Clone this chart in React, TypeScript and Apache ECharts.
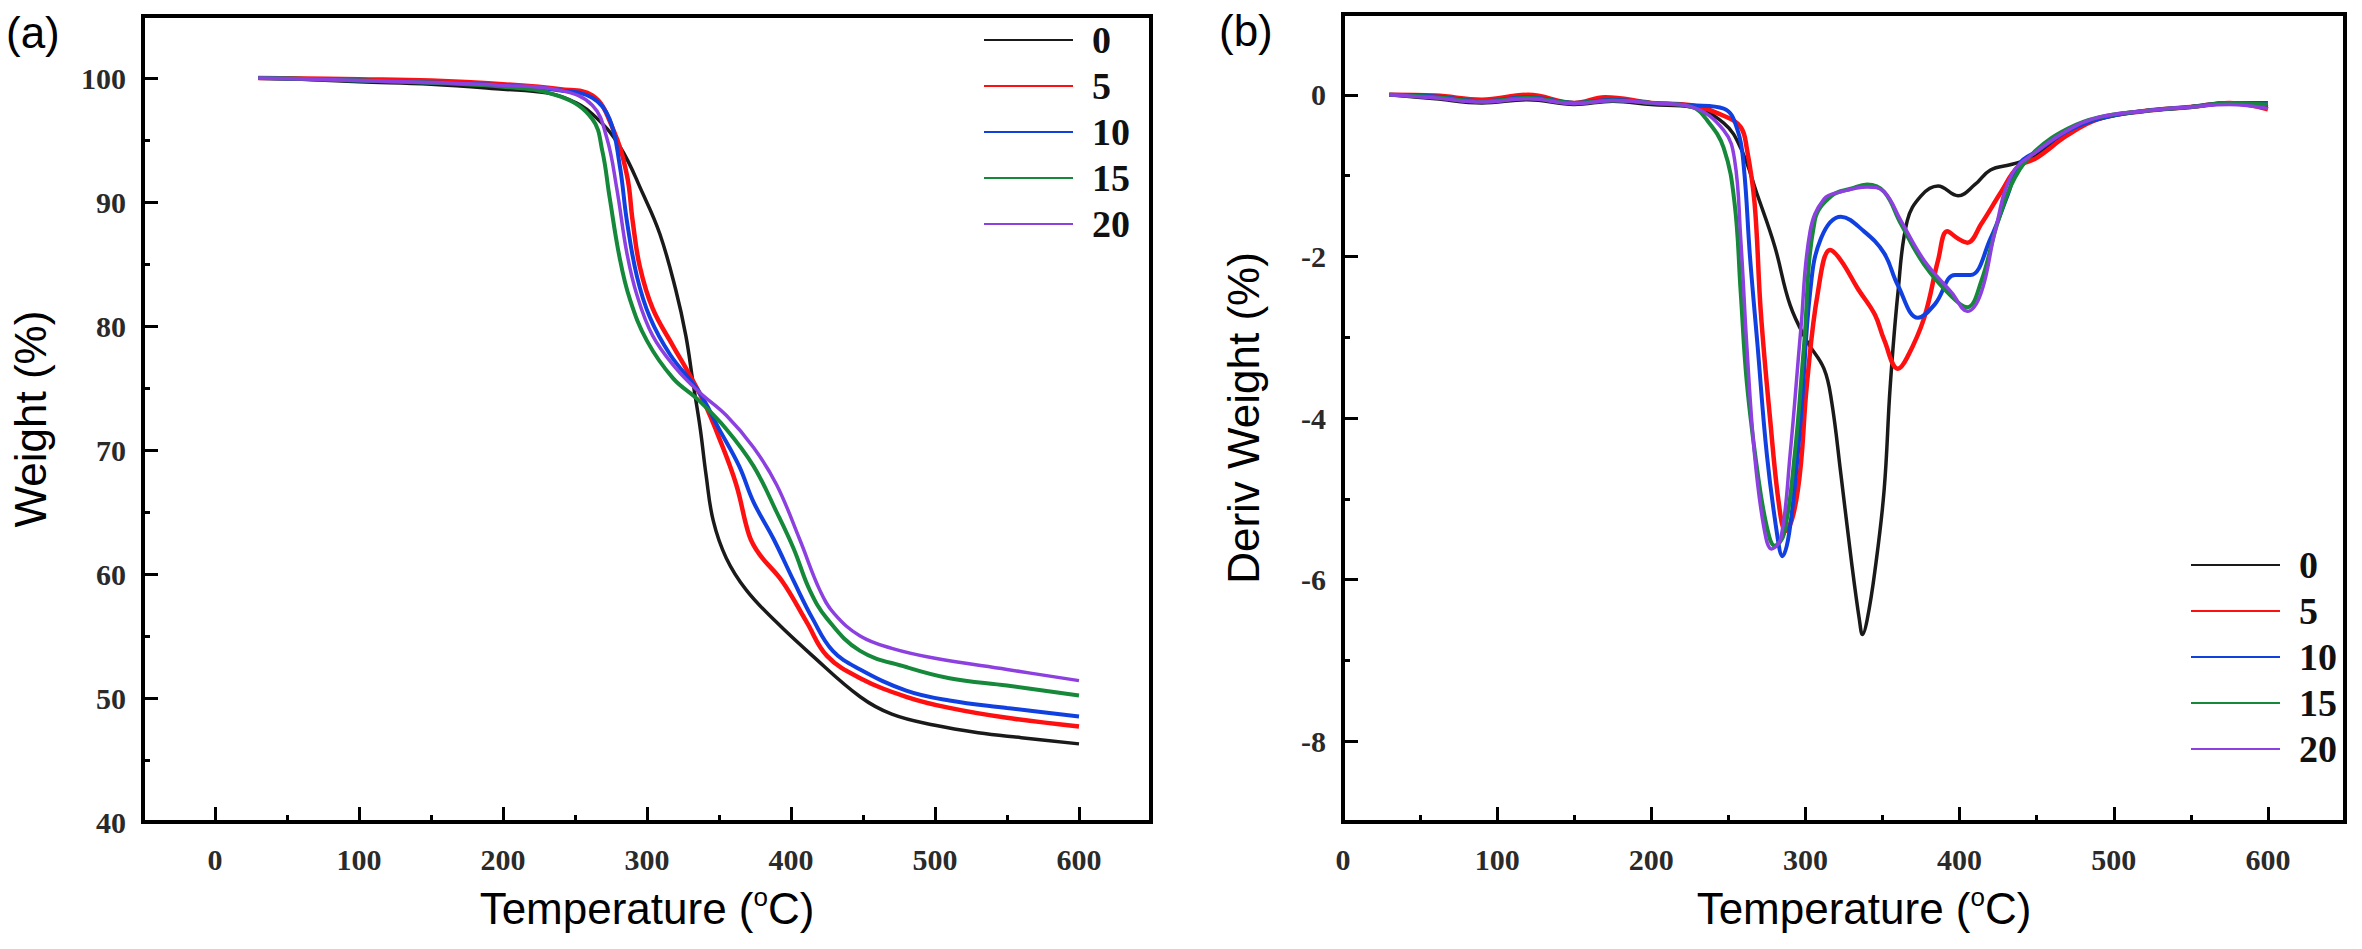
import React, { useEffect, useRef } from 'react';
import * as echarts from 'echarts';

// series names (filler content, %)
const names = ['0', '5', '10', '15', '20'];
const colors = ['#1a1a1a', '#ff1010', '#1040e0', '#15883a', '#8c40e0'];
const widths = [3.5, 4.5, 4, 4, 3.5];

// (a) TGA: [temperature, weight %]
const tga0: number[][] = [[30, 100], [60, 99.9], [100, 99.7], [150, 99.5], [200, 99.1], [230, 98.8], [245, 98.3], [262, 97.1], [281, 94.5], [297, 90.7], [309, 87.4], [320, 82.9], [327, 79.2], [332, 75.4], [337, 71.7], [341, 68], [346, 64.3], [355, 61.3], [369, 58.7], [390, 56.1], [414, 53.5], [448, 50.1], [470, 48.7], [500, 47.8], [530, 47.2], [560, 46.8], [600, 46.3]];
const tga5: number[][] = [[30, 100], [100, 99.9], [150, 99.8], [200, 99.5], [240, 99.1], [262, 98.6], [276, 96], [286, 92.2], [290, 88.5], [295, 84.8], [304, 81.4], [318, 78.4], [327, 76.6], [339, 74], [350, 71], [362, 67.2], [371, 63.1], [378, 61.6], [394, 59.4], [411, 56.1], [425, 53.4], [448, 51.6], [480, 50.1], [510, 49.2], [550, 48.4], [600, 47.7]];
const tga10: number[][] = [[30, 100], [100, 99.8], [200, 99.4], [240, 99], [262, 98.4], [274, 96.7], [281, 93], [286, 88.5], [293, 84], [302, 80.7], [316, 77.7], [336, 74.7], [350, 71.7], [364, 68.7], [374, 65.8], [388, 62.8], [402, 59.4], [415, 56.4], [429, 53.8], [448, 52.3], [480, 50.6], [510, 49.8], [550, 49.2], [600, 48.5]];
const tga15: number[][] = [[30, 100], [100, 99.8], [200, 99.3], [240, 98.5], [262, 96.7], [269, 94.1], [274, 90.4], [281, 85.5], [288, 82.2], [300, 78.8], [318, 75.8], [336, 74], [355, 71.7], [374, 68.7], [390, 65], [402, 62], [413, 58.7], [425, 56.4], [448, 53.8], [480, 52.5], [510, 51.6], [550, 51], [600, 50.2]];
const tga20: number[][] = [[30, 100], [100, 99.8], [200, 99.4], [240, 99], [262, 97.8], [272, 95.2], [279, 91.1], [286, 85.9], [293, 82.5], [304, 79.2], [320, 76.6], [336, 74.7], [355, 72.8], [374, 70.2], [390, 67.2], [406, 62.8], [420, 58.7], [430, 56.8], [448, 55], [470, 54], [500, 53.2], [550, 52.3], [600, 51.4]];

// (b) DTG: [temperature, deriv weight %]
const dtg0: number[][] = [[30, 0], [60, -0.05], [90, -0.1], [120, -0.06], [150, -0.12], [175, -0.08], [200, -0.12], [226, -0.15], [247, -0.35], [258, -0.66], [269, -1.25], [280, -1.87], [290, -2.6], [301, -3.05], [312, -3.39], [317, -3.8], [323, -4.7], [330, -5.8], [335, -6.5], [337, -6.68], [340, -6.5], [345, -5.9], [351, -4.9], [355, -3.6], [360, -2.45], [366, -1.56], [375, -1.25], [386, -1.13], [399, -1.25], [410, -1.11], [420, -0.93], [434, -0.86], [450, -0.75], [470, -0.45], [490, -0.3], [520, -0.2], [550, -0.15], [575, -0.1], [600, -0.15]];
const dtg5: number[][] = [[30, 0], [60, -0.01], [90, -0.06], [120, 0], [150, -0.1], [170, -0.03], [200, -0.1], [226, -0.13], [247, -0.26], [258, -0.4], [262, -0.67], [267, -1.34], [271, -2.68], [277, -4.0], [283, -5.1], [287, -5.4], [295, -4.9], [301, -3.57], [308, -2.45], [316, -1.92], [323, -2.05], [334, -2.4], [345, -2.72], [351, -3.03], [360, -3.39], [366, -3.25], [377, -2.76], [386, -2.05], [392, -1.69], [399, -1.78], [405, -1.83], [414, -1.6], [427, -1.2], [438, -0.89], [450, -0.78], [470, -0.5], [490, -0.3], [520, -0.2], [550, -0.15], [575, -0.1], [600, -0.18]];
const dtg10: number[][] = [[30, 0], [60, -0.02], [90, -0.08], [120, -0.03], [150, -0.1], [175, -0.06], [200, -0.1], [226, -0.13], [247, -0.17], [256, -0.44], [260, -0.89], [264, -2.0], [269, -3.12], [275, -4.46], [282, -5.49], [285, -5.71], [290, -5.35], [297, -4.0], [303, -2.45], [310, -1.78], [323, -1.51], [338, -1.69], [351, -1.96], [360, -2.36], [373, -2.76], [384, -2.59], [397, -2.23], [407, -2.23], [420, -1.78], [431, -1.25], [439, -0.85], [450, -0.7], [470, -0.45], [490, -0.3], [520, -0.2], [550, -0.15], [575, -0.1], [600, -0.1]];
const dtg15: number[][] = [[30, 0], [60, -0.03], [90, -0.08], [120, -0.04], [150, -0.1], [175, -0.07], [200, -0.1], [226, -0.15], [236, -0.31], [247, -0.66], [254, -1.34], [258, -2.45], [262, -3.57], [269, -4.68], [275, -5.35], [280, -5.58], [286, -5.44], [293, -4.46], [299, -3.12], [306, -1.56], [317, -1.25], [330, -1.16], [340, -1.11], [351, -1.2], [362, -1.6], [377, -2.1], [395, -2.5], [405, -2.63], [414, -2.31], [425, -1.56], [436, -1.02], [450, -0.68], [470, -0.42], [490, -0.28], [520, -0.2], [550, -0.15], [575, -0.1], [600, -0.12]];
const dtg20: number[][] = [[30, 0], [60, -0.04], [90, -0.09], [120, -0.05], [150, -0.11], [175, -0.07], [200, -0.1], [226, -0.15], [247, -0.44], [254, -0.8], [258, -1.78], [262, -3.12], [267, -4.46], [273, -5.35], [278, -5.62], [284, -5.49], [290, -4.46], [297, -2.9], [303, -1.69], [312, -1.29], [323, -1.2], [340, -1.14], [351, -1.2], [362, -1.56], [377, -2.05], [395, -2.45], [405, -2.68], [414, -2.45], [423, -1.69], [434, -0.98], [450, -0.7], [470, -0.44], [490, -0.28], [520, -0.2], [550, -0.15], [575, -0.12], [600, -0.17]];

// ticks
const xMajor = [0, 100, 200, 300, 400, 500, 600];
const xMinor = [50, 150, 250, 350, 450, 550];
const yMajorA = [40, 50, 60, 70, 80, 90, 100];
const yMinorA = [45, 55, 65, 75, 85, 95];
const yMajorB = [-8, -6, -4, -2, 0];
const yMinorB = [-7, -5, -3, -1];

const tickFont = { fontFamily: 'Liberation Serif', fontWeight: 'bold' as const, fontSize: 30, color: '#2a2a2a' };
const nameFont = { fontFamily: 'Liberation Sans', fontSize: 44, color: '#000' };

const tempName = {
  name: '{n|Temperature (}{s|o}{n|C)}',
  rich: {
    n: { ...nameFont },
    s: { fontFamily: 'Liberation Sans', fontSize: 26, color: '#000', padding: [0, 0, 22, 0] },
  },
};

const App: React.FC = () => {
  const chartRef = useRef<HTMLDivElement>(null);

  useEffect(() => {
    if (!chartRef.current) return;
    const chart = echarts.init(chartRef.current, undefined, { renderer: 'svg' });

    const xAxes = (grid: number, min: number, max: number, shiftName: number) => [
      {
        type: 'value', gridIndex: grid, min, max, position: 'bottom',
        name: tempName.name, nameLocation: 'middle', nameGap: 62,
        nameTextStyle: { rich: tempName.rich, padding: [0, 0, 0, shiftName] },
        axisLine: { show: true, onZero: false, lineStyle: { color: '#000', width: 4 } },
        axisTick: { show: true, inside: true, length: 15, customValues: xMajor, lineStyle: { color: '#000', width: 3 } },
        axisLabel: { customValues: xMajor, margin: 22, ...tickFont },
        splitLine: { show: false },
      },
      {
        type: 'value', gridIndex: grid, min, max, position: 'bottom',
        axisLine: { show: false, onZero: false },
        axisTick: { show: true, inside: true, length: 7, customValues: xMinor, lineStyle: { color: '#000', width: 3 } },
        axisLabel: { show: false },
        splitLine: { show: false },
      },
    ];

    const yAxes = (grid: number, min: number, max: number, major: number[], minor: number[], name: string, gap: number) => [
      {
        type: 'value', gridIndex: grid, min, max, position: 'left',
        name, nameLocation: 'middle', nameGap: gap, nameRotate: 90, nameTextStyle: nameFont,
        axisLine: { show: true, onZero: false, lineStyle: { color: '#000', width: 4 } },
        axisTick: { show: true, inside: true, length: 15, customValues: major, lineStyle: { color: '#000', width: 3 } },
        axisLabel: { customValues: major, margin: 17, ...tickFont },
        splitLine: { show: false },
      },
      {
        type: 'value', gridIndex: grid, min, max, position: 'left', offset: 0,
        axisLine: { show: false, onZero: false },
        axisTick: { show: true, inside: true, length: 7, customValues: minor, lineStyle: { color: '#000', width: 3 } },
        axisLabel: { show: false },
        splitLine: { show: false },
      },
    ];

    const mkSeries = (data: number[][], i: number, grid: number) => ({
      name: names[i], type: 'line', data,
      xAxisIndex: grid * 2, yAxisIndex: grid * 2,
      showSymbol: false, symbol: 'none', smooth: 0.4,
      lineStyle: { color: colors[i], width: widths[i] },
      itemStyle: { color: colors[i] },
      z: 3,
    });

    const legend = (left: number, top: number) => ({
      left, top, orient: 'vertical', padding: 0, itemGap: 0,
      itemWidth: 89, itemHeight: 14,
      itemStyle: { opacity: 0 },
      data: names,
      textStyle: { fontFamily: 'Liberation Serif', fontWeight: 'bold', fontSize: 38, lineHeight: 46, color: '#111', padding: [0, 0, 0, 14] },
    });

    const options = {
      animation: false,
      backgroundColor: '#fff',
      grid: [
        { left: 143, top: 16, width: 1008, height: 806, show: true, borderColor: '#000', borderWidth: 4 },
        { left: 1343, top: 14, width: 1002, height: 808, show: true, borderColor: '#000', borderWidth: 4 },
      ],
      xAxis: [...xAxes(0, -50, 650, 0), ...xAxes(1, 0, 650, 40)],
      yAxis: [
        ...yAxes(0, 40, 105, yMajorA, yMinorA, 'Weight (%)', 91),
        ...yAxes(1, -9, 1, yMajorB, yMinorB, 'Deriv Weight (%)', 78),
      ],
      legend: [legend(983, 17), legend(2190, 542)],
      graphic: [
        { type: 'text', left: 6, top: 10, style: { text: '(a)', fontFamily: 'Liberation Sans', fontSize: 44, fill: '#000' } },
        { type: 'text', left: 1219, top: 8, style: { text: '(b)', fontFamily: 'Liberation Sans', fontSize: 44, fill: '#000' } },
      ],
      series: [
        ...[tga0, tga5, tga10, tga15, tga20].map((d, i) => mkSeries(d, i, 0)),
        ...[dtg0, dtg5, dtg10, dtg15, dtg20].map((d, i) => mkSeries(d, i, 1)),
      ],
    };

    chart.setOption(options as any);

    return () => {
      chart.dispose();
    };
  }, []);

  return <div ref={chartRef} style={{ position: 'absolute', left: 0, top: 0, width: 2362, height: 949 }} />;
};

export default App;
